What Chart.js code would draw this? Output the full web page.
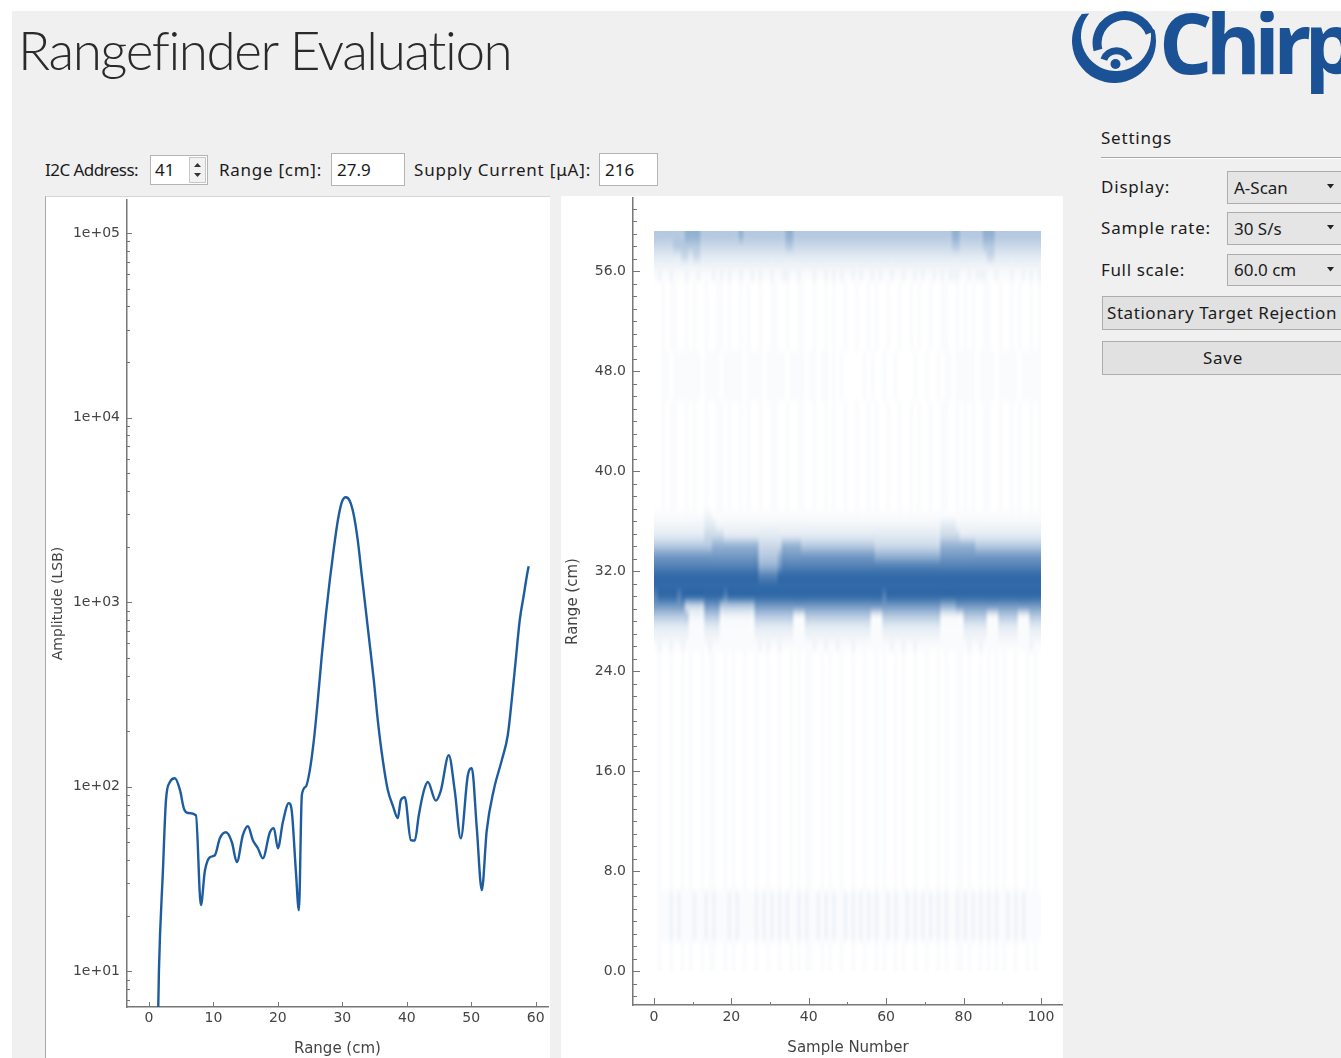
<!DOCTYPE html>
<html lang="en"><head><meta charset="utf-8"><title>Rangefinder Evaluation</title>
<script src="https://cdn.jsdelivr.net/npm/chart.js@4.4.1/dist/chart.umd.min.js"></script>
<style>
html,body{margin:0;padding:0;}
body{width:1341px;height:1058px;overflow:hidden;position:relative;background:#f0f0f0;font-family:"Noto Sans","Open Sans",sans-serif;color:#1b1b1b;}
.abs{position:absolute;white-space:nowrap;}
.lbl{position:absolute;white-space:nowrap;font-size:17px;line-height:22px;height:22px;}
.box{position:absolute;box-sizing:border-box;background:#fff;border:1px solid #b4b4b4;font-size:17px;white-space:nowrap;}
.combo{position:absolute;box-sizing:border-box;background:#e5e5e5;border:1px solid #adadad;font-size:17px;white-space:nowrap;}
.btn{position:absolute;box-sizing:border-box;background:#e1e1e1;border:1px solid #adadad;font-size:17px;white-space:nowrap;overflow:hidden;}
.txt{position:absolute;white-space:nowrap;}
</style></head><body>
<div class="abs" style="left:0;top:0;width:1341px;height:11px;background:#fff"></div>
<div class="abs" style="left:0;top:0;width:12px;height:1058px;background:#fff"></div>

<div class="txt" data-w="493" style="left:18px;top:18px;font-family:Lato;font-weight:300;font-size:53px;line-height:64px;color:#2a2a2a">Rangefinder Evaluation</div>

<div class="abs" style="left:1060px;top:11px;width:281px;height:90px;overflow:hidden">
  <svg width="110" height="100" viewBox="0 11 110 100" style="position:absolute;left:0;top:0">
    <path d="M 21.8 14 A 42 42 0 1 0 94.6 30.1 L 89.8 26.9 A 35 35 0 1 1 29.2 13.5 Z" fill="#1b5296"/>
    <path d="M 38 50 A 27.4 27.4 0 0 1 90 33" stroke="#1b5296" stroke-width="9" fill="none"/>
    <path d="M 43.8 59.6 A 13.5 13.5 0 0 1 69.2 59.6" stroke="#1b5296" stroke-width="7" fill="none"/>
    <circle cx="55.5" cy="64" r="5" fill="#1b5296"/>
  </svg>
  <div class="txt" data-w="192" style="left:99px;top:-11px;font-family:'Open Sans';font-weight:700;font-size:84px;line-height:84px;color:#1b5296">Chirp</div>
</div>

<!-- toolbar -->
<div class="lbl" data-w="93" style="left:45px;top:159px">I2C Address:</div>
<div class="box" style="left:150px;top:155px;width:58px;height:30px;line-height:28px;padding-left:4px">41</div>
<svg class="abs" style="left:189px;top:157px" width="17" height="26">
  <rect x="0.5" y="0.5" width="16" height="25" fill="#f2f2f2" stroke="#c8c8c8"/>
  <path d="M5 10 L8.5 6 L12 10 Z" fill="#333"/><path d="M5 16 L8.5 20 L12 16 Z" fill="#333"/>
</svg>
<div class="lbl" data-w="103" style="left:219px;top:159px">Range [cm]:</div>
<div class="box" style="left:331px;top:153px;width:74px;height:33px;line-height:31px;padding-left:5px">27.9</div>
<div class="lbl" data-w="177" style="left:414px;top:159px">Supply Current [μA]:</div>
<div class="box" style="left:599px;top:153px;width:59px;height:33px;line-height:31px;padding-left:5px">216</div>

<!-- settings -->
<div class="lbl" data-w="71" style="left:1101px;top:127px">Settings</div>
<div class="abs" style="left:1101px;top:157px;width:240px;height:1px;background:#a8a8a8"></div>
<div class="abs" style="left:1101px;top:158px;width:240px;height:1px;background:#fff"></div>
<div class="lbl" data-w="69" style="left:1101px;top:176px">Display:</div>
<div class="combo" style="left:1227px;top:171px;width:130px;height:33px;line-height:31px;padding-left:6px">A-Scan</div>
<div class="lbl" data-w="110" style="left:1101px;top:217px">Sample rate:</div>
<div class="combo" style="left:1227px;top:212px;width:130px;height:33px;line-height:31px;padding-left:6px">30 S/s</div>
<div class="lbl" data-w="84" style="left:1101px;top:259px">Full scale:</div>
<div class="combo" style="left:1227px;top:254px;width:130px;height:32px;line-height:30px;padding-left:6px">60.0 cm</div>
<svg class="abs" style="left:1326px;top:183px" width="10" height="90">
  <path d="M1 1 L8 1 L4.5 5.5 Z" fill="#222"/>
  <path d="M1 42 L8 42 L4.5 46.5 Z" fill="#222"/>
  <path d="M1 84 L8 84 L4.5 88.5 Z" fill="#222"/>
</svg>
<div class="btn" style="left:1102px;top:296px;width:250px;height:34px"></div>
<div class="lbl" data-w="230" style="left:1107px;top:302px">Stationary Target Rejection</div>
<div class="btn" style="left:1102px;top:341px;width:250px;height:34px"></div>
<div class="lbl" data-w="40" style="left:1203px;top:347px">Save</div>

<!-- chart panels -->
<div class="abs" style="left:45px;top:196px;width:505px;height:862px;background:#fff;box-sizing:border-box;border-left:1px solid #a8a8a8;border-top:1px solid #d6d6d6"></div>
<div class="abs" style="left:561px;top:196px;width:502px;height:862px;background:#fff"></div>
<canvas id="ascan" width="505" height="862" style="position:absolute;left:45px;top:196px"></canvas>
<canvas id="bscan" width="502" height="862" style="position:absolute;left:561px;top:196px"></canvas>

<script>
// ================= DATA =================
// A-Scan: range (cm) and amplitude (LSB)
const ascanRangeCm = [1.20,1.55,2.17,2.64,3.26,4.03,4.81,5.43,6.05,7.29,8.06,8.68,9.46,10.23,11.00,11.94,12.87,13.64,14.57,15.35,16.12,16.90,17.67,18.76,19.38,20.00,20.78,21.70,22.17,22.79,23.26,23.72,24.34,24.96,25.58,26.20,26.82,27.44,28.06,28.68,29.30,29.92,30.54,31.16,31.78,32.40,33.02,33.64,34.26,34.88,35.50,36.28,37.05,37.83,38.60,39.07,39.69,40.62,41.24,41.86,42.64,43.26,44.50,45.27,46.51,47.44,48.37,49.46,50.08,50.85,51.63,52.40,53.49,54.73,55.66,56.28,56.90,57.52,58.14,58.76,58.91];
const ascanAmplitude = [2,10,35,84,106,111,96,76,72,70,22.8,35,41.5,42.5,52.5,56.6,50,39,54.6,61,51.3,46.4,40.9,56.6,59.6,46.4,64.4,81.4,73,35,21.4,90,100,123,178,295,517,850,1319,1955,2770,3484,3700,3530,2960,2155,1390,906,585,378,229,139,96,79,67.6,84.5,87.7,51.3,51,70,95,106,84,95,148,95,52.5,115,126,60,27.5,58,96,139,190,295,487,800,1090,1480,1566];
const ascanXTicks = [0,10,20,30,40,50,60];
const ascanYMajor = [10,100,1000,10000,100000];
const ascanYLabels = ['1e+01','1e+02','1e+03','1e+04','1e+05'];
const ascanDecades = [1,10,100,1000,10000,100000];

// B-Scan: sample numbers, range bins (lower edge, cm, top to bottom), intensity levels 0-9 per sample
const bscanSamples = Array.from({length:100},(_,i)=>i);
const bscanBinCm = 0.8;
const bscanBinsCm = [58.4,57.6,56.8,56.0,55.2,54.4,53.6,52.8,52.0,51.2,50.4,49.6,48.8,48.0,47.2,46.4,45.6,44.8,44.0,43.2,42.4,41.6,40.8,40.0,39.2,38.4,37.6,36.8,36.0,35.2,34.4,33.6,32.8,32.0,31.2,30.4,29.6,28.8,28.0,27.2,26.4,25.6,24.8,24.0,23.2,22.4,21.6,20.8,20.0,19.2,18.4,17.6,16.8,16.0,15.2,14.4,13.6,12.8,12.0,11.2,10.4,9.6,8.8,8.0,7.2,6.4,5.6,4.8,4.0,3.2,2.4,1.6,0.8,0.0];
const FA = "0010110010 1001001101 0010100100 1100100110 0100101001 0010010100 1001001010 0100110010 1010011001 0010100101";
const FB = "0100100101 0010110010 1001001001 0010010101 1001010010 0100100101 0010100100 1001010011 0100101010 1001001010";
const H1 = "0011011111 1101111011 1110111101 1111011110 1101101010 0000101001 0010000100 1001011011 1110111101 1111011111";
const B1 = "0111212111 2112121112 1211112121 2121211212 1121212112 1212121211 2121121212 1212121121 2121212121 1212121111";
const bscanLevels = [
 "5555555566 6655555555 5565555555 5555665555 5555555555 5555555555 5555555555 5555555665 5555566655 5555555555",
 "4444455555 5544444444 4444444444 4444554444 4444444444 4444444444 4444444444 4444444554 4444455544 4444444444",
 "3333333443 4433333333 3333333333 3333333333 3333333333 3333333333 3333333333 3333333333 3333334433 3333333333",
 "2222222222 2222222222 2222222222 2222222222 2222222222 2222222222 2222222222 2222222222 2222222222 2222222222",
 "1211211121 1211121212 1121121211 2112211211 1211212121 1212112121 1211211212 1121212221 1212221121 1121121212",
 FA, FA, FA, FA, FA, FA, FA,
 H1, H1, H1, H1, H1,
 FA, FA, FA, FA, FA, FA, FA, FA, FA, FA, FA,
 "1111111111 1112211111 1111111111 1111111111 1111111111 1111111111 1111111111 1111111111 1111111111 1111111111",
 "2222222222 2223332222 2222222222 2222222222 2222222222 2222222222 2222222222 2222333322 2222222222 2222222222",
 "3333333333 3334444433 3333333333 3333333333 3333333333 3333333333 3333333333 3333444443 3333333333 3333333333",
 "5555555555 5555566666 6666666444 4446666655 5555555555 5555555444 4444444444 4444666666 6665555555 5555555555",
 "7777777777 7777777777 7777777555 5567777777 7777777777 7777777666 6666666666 6666777777 7777777777 7777777777",
 "8888888888 8888888888 8888888666 6678888888 8888888888 8888888888 8888888888 8888888888 8888888888 8888888888",
 "9999999999 9999999999 9999999888 8899999999 9999999999 9999999999 9999999999 9999999999 9999999999 9999999999",
 "9999999999 9999999999 9999999999 9999999999 9999999999 9999999999 9999999999 9999999999 9999999999 9999999999",
 "8999998999 9999999989 9999999999 9999999999 9999999999 9999999998 9999999999 9999999999 9999999999 9999999999",
 "7777777744 4447777555 5555557777 7777777777 7777777777 7777777777 7777777777 7777666677 7777777777 7777777777",
 "5555555552 2225555222 2222225555 5555552225 5555555555 5555552225 5555555555 5555222222 5555552225 5555222555",
 "3333333331 1113333111 1111113333 3333331113 3333333333 3333331113 3333333333 3333111111 3333331113 3333111333",
 "2222222221 1112222111 1111112222 2222221112 2222222222 2222221112 2222222222 2222111111 2222221112 2222111222",
 "1211211211 1111211111 1111111212 1121111111 1211211211 1211111111 1211211211 1111111111 1211211111 1111111211",
 FB, FB, FB, FB, FB, FB, FB, FB, FB, FB, FB, FB, FB, FB, FB, FB, FB, FB, FB, FB, FB, FB, FB, FB,
 B1, B1, B1, B1, B1,
 FB, FB, FB
];
const bscanXTicks = [0,20,40,60,80,100];
const bscanYTicks = [0,8,16,24,32,40,48,56];
const bscanYLabels = ['0.0','8.0','16.0','24.0','32.0','40.0','48.0','56.0'];

// ================= STYLE / HELPERS =================
Chart.defaults.font.family = "'DejaVu Sans'";
Chart.defaults.color = '#444';
const levelT = [0,0.025,0.075,0.15,0.26,0.36,0.52,0.68,0.84,1.0];
const darkRGB = [50,106,168];
const AXIS = '#777';

function tickMarks(spec){
  return {id:'tickmarks', afterDraw(chart){
    const ctx = chart.ctx; ctx.save(); ctx.strokeStyle = AXIS; ctx.lineWidth = 1;
    spec.forEach(s=>{
      const sc = chart.scales[s.axis];
      s.values.forEach(v=>{
        if (v < sc.min || v > sc.max) return;
        const p = Math.round(sc.getPixelForValue(v)) + 0.5;
        ctx.beginPath();
        if (s.axis === 'x') { ctx.moveTo(p, sc.top); ctx.lineTo(p, sc.top - s.len); }
        else { ctx.moveTo(sc.right, p); ctx.lineTo(sc.right + s.len, p); }
        ctx.stroke();
      });
    });
    ctx.restore();
  }};
}
function noPad(s){ s.paddingTop = 0; s.paddingBottom = 0; s.paddingLeft = 0; s.paddingRight = 0; }

const tickFont = {family:"'DejaVu Sans'", size:14};
const titleFont = {family:"'DejaVu Sans'", size:15};

// ================= A-SCAN =================
const ampYMin = 6.4, ampYMax = 151000;
const ampAllTicks = [];
ascanDecades.forEach(d=>{ for (let m=1;m<10;m++){ const v = d*m; if (v>=ampYMin && v<=ampYMax) ampAllTicks.push(v); } });

new Chart(document.getElementById('ascan'), {
  type:'line',
  data:{datasets:[{
    data: ascanRangeCm.map((x,i)=>({x, y:ascanAmplitude[i]})),
    borderColor:'#1d5c9f', borderWidth:2.4, pointRadius:0, fill:false,
    cubicInterpolationMode:'monotone'
  }]},
  options:{
    responsive:false, animation:false, devicePixelRatio:1, events:[],
    layout:{padding:{top:4,right:2,left:0,bottom:0}},
    plugins:{legend:{display:false}, tooltip:{enabled:false}},
    scales:{
      x:{type:'linear', min:-3.4, max:61.9,
        afterBuildTicks:s=>{s.ticks = ascanXTicks.map(v=>({value:v}));},
        afterFit:s=>{s.height = 51; noPad(s);},
        grid:{display:false, drawTicks:false},
        border:{display:true, color:AXIS, width:1.5},
        ticks:{font:tickFont, color:'#444', padding:3, maxRotation:0, autoSkip:false},
        title:{display:true, text:'Range (cm)', font:titleFont, color:'#444', padding:{top:0,bottom:0}}
      },
      y:{type:'logarithmic', min:ampYMin, max:ampYMax,
        afterBuildTicks:s=>{s.ticks = ampAllTicks.map(v=>({value:v}));},
        afterFit:s=>{s.width = 82; noPad(s);},
        grid:{display:false, drawTicks:false},
        border:{display:true, color:AXIS, width:1.5},
        ticks:{font:tickFont, color:'#444', padding:7, autoSkip:false,
          callback:(v)=>{ const i = ascanYMajor.indexOf(v); return i>=0 ? ascanYLabels[i] : ''; }},
        title:{display:true, text:'Amplitude (LSB)', font:{family:"'DejaVu Sans'", size:14}, color:'#444', padding:{top:5,bottom:0}}
      }
    }
  },
  plugins:[tickMarks([
    {axis:'x', values:ascanXTicks, len:5},
    {axis:'y', values:ascanYMajor, len:5},
    {axis:'y', values:ampAllTicks.filter(v=>!ascanYMajor.includes(v)), len:3}
  ])]
});

// ================= B-SCAN =================
const bscanImage = {id:'bscanImage', beforeDatasetsDraw(chart){
  const {ctx, scales:{x, y}} = chart;
  const nC = bscanSamples.length, nR = bscanBinsCm.length;
  const off = document.createElement('canvas'); off.width = nC; off.height = nR;
  const octx = off.getContext('2d'); const img = octx.createImageData(nC, nR);
  for (let r=0;r<nR;r++){
    const row = bscanLevels[r].replace(/ /g,'');
    for (let c=0;c<nC;c++){
      const t = levelT[+row[c]] || 0; const o = (r*nC+c)*4;
      img.data[o]   = Math.round(255 + (darkRGB[0]-255)*t);
      img.data[o+1] = Math.round(255 + (darkRGB[1]-255)*t);
      img.data[o+2] = Math.round(255 + (darkRGB[2]-255)*t);
      img.data[o+3] = 255;
    }
  }
  octx.putImageData(img, 0, 0);
  const x0 = x.getPixelForValue(bscanSamples[0]);
  const x1 = x.getPixelForValue(bscanSamples[nC-1] + 1);
  const y0 = y.getPixelForValue(bscanBinsCm[0] + bscanBinCm);
  const y1 = y.getPixelForValue(bscanBinsCm[nR-1]);
  ctx.save(); ctx.imageSmoothingEnabled = true; ctx.imageSmoothingQuality = 'high';
  ctx.drawImage(off, x0, y0, x1-x0, y1-y0); ctx.restore();
}};

const rangeMinor = []; for (let v=-2; v<=61; v++) if (v%8!==0) rangeMinor.push(v);
const sampleMinor = [10,30,50,70,90];

new Chart(document.getElementById('bscan'), {
  type:'scatter',
  data:{datasets:[{data:[], pointRadius:0}]},
  options:{
    responsive:false, animation:false, devicePixelRatio:1, events:[],
    layout:{padding:{top:2,right:0,left:0,bottom:0}},
    plugins:{legend:{display:false}, tooltip:{enabled:false}},
    scales:{
      x:{type:'linear', min:-5.4, max:105.7,
        afterBuildTicks:s=>{s.ticks = bscanXTicks.map(v=>({value:v}));},
        afterFit:s=>{s.height = 53; noPad(s);},
        grid:{display:false, drawTicks:false},
        border:{display:true, color:AXIS, width:1.5},
        ticks:{font:tickFont, color:'#444', padding:4, maxRotation:0, autoSkip:false},
        title:{display:true, text:'Sample Number', font:titleFont, color:'#444', padding:{top:0,bottom:1}}
      },
      y:{type:'linear', min:-2.72, max:61.84,
        afterBuildTicks:s=>{s.ticks = bscanYTicks.map(v=>({value:v}));},
        afterFit:s=>{s.width = 72; noPad(s);},
        grid:{display:false, drawTicks:false},
        border:{display:true, color:AXIS, width:1.5},
        ticks:{font:tickFont, color:'#444', padding:7, autoSkip:false,
          callback:(v)=>{ const i = bscanYTicks.indexOf(v); return i>=0 ? bscanYLabels[i] : ''; }},
        title:{display:true, text:'Range (cm)', font:titleFont, color:'#444', padding:{top:3,bottom:0}}
      }
    }
  },
  plugins:[bscanImage, tickMarks([
    {axis:'x', values:bscanXTicks, len:7},
    {axis:'x', values:sampleMinor, len:3},
    {axis:'y', values:bscanYTicks, len:7},
    {axis:'y', values:rangeMinor, len:4}
  ])]
});

// ================= fit label widths =================
function fitTexts(){
  document.querySelectorAll('[data-w]').forEach(el=>{
    el.style.letterSpacing = '0px';
    const w = el.getBoundingClientRect().width;
    const n = el.textContent.length;
    el.style.letterSpacing = ((+el.dataset.w - w)/n) + 'px';
  });
}
fitTexts();
if (document.fonts && document.fonts.ready) document.fonts.ready.then(fitTexts);
</script>
</body></html>
